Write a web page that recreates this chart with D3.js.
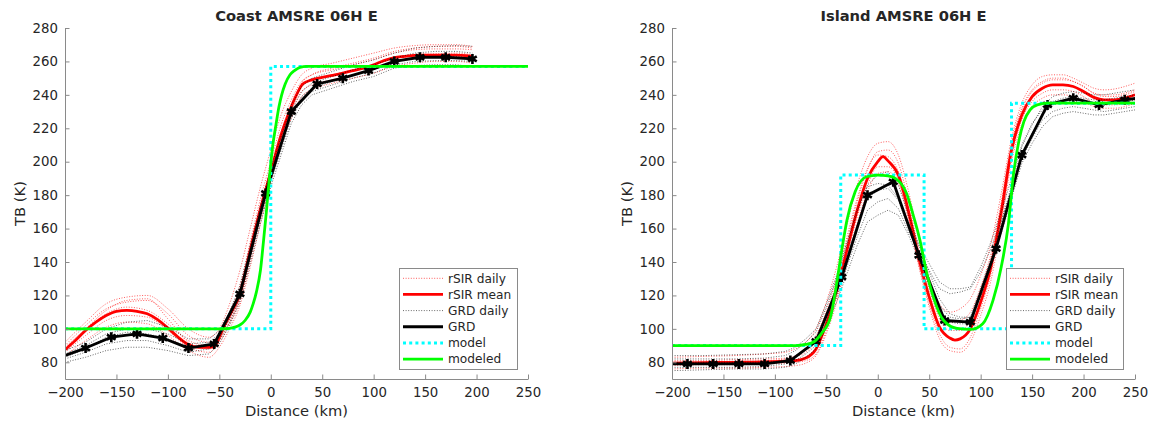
<!DOCTYPE html>
<html><head><meta charset="utf-8">
<script src="https://cdn.jsdelivr.net/npm/d3@7"></script>
<style>
body{margin:0;background:#fff}
svg{display:block}
text{font-family:"DejaVu Sans",sans-serif;fill:#262626}
</style>
</head><body>
<svg id="c" width="1152" height="426"></svg>
<script>
// ---------------- shared ----------------
const xTicks = [-200,-150,-100,-50,0,50,100,150,200,250];
const yTicks = [80,100,120,140,160,180,200,220,240,260,280];
const legendLabels = ["rSIR daily","rSIR mean","GRD daily","GRD","model","modeled"];

// ---------------- Coast ----------------
const coastDailyX = [-200,-180,-160,-140,-120,-100,-80,-60,-50,-40,-30,-20,-10,0,10,20,30,40,60,80,100,120,140,160,180,196];
const coastRsirDaily = [
  [92,104,115,119,120,112,100,95,100,115,135,160,185,207,228,242,252,256,259,262,265,268,269.5,270,270,269],
  [90,102,112,116,117,109,96,92,97,110,126,152,178,200,222,237,248,252,255,258,261,265,267,267.5,267.5,267],
  [88,99,109,113,111,103,93,90,95,106,121,146,172,196,218,233,245,249,252,255,258,262,264,264.5,265,264],
  [86,96,105,108,107,99,89,86,92,103,117,141,167,192,214,229,242,246,249,252,256,260,262,262.5,262.5,262],
  [84,93,101,104,103,96,87,83,89,100,114,137,163,188,210,226,239,243,247,250,253,257,259,260,260,259],
  [89,100,111,117,118,106,92,88,93,104,119,143,169,194,216,232,247,252,256,259,262,266,268,269,269,268]
];
const coastGrdDaily = [
  [87,92,100,104,105,101,94,94,99,110,126,150,174,196,215,234,245,250,254,258,261,265,268,269,269.5,269],
  [85,90,97,100,100,97,91,92,97,108,123,147,171,193,212,231,242,247,251,255,258,262,265,266,266,265],
  [82,86,91,93,93,90,86,88,93,104,118,142,166,188,207,226,237,242,246,250,253,258,260,260.5,260.5,260],
  [80,83,87,89,89,87,84,85,91,102,116,139,163,185,204,223,234,240,244,248,251,256,257.5,258,258,257],
  [83,88,95,98,97,94,89,90,95,106,120,144,168,190,209,228,239,244,248,252,255,260,262,263,263,262]
];
const coastMeanX = [-200,-190,-180,-170,-160,-150,-140,-130,-120,-110,-100,-90,-80,-70,-60,-55,-50,-45,-40,-30,-20,-10,0,10,18,25,31,40,50,60,70,80,90,100,110,120,130,140,150,160,170,180,190,196];
const coastMeanY = [87.5,93,99,104,108,110.5,111,110.5,109,105.5,100.5,95,90.5,89,89,89.5,95,102,108,121,147,172,194,216,230,240,246.5,249,250.5,251.7,253,254.5,256,258,260.5,262.3,263,263.6,263.8,263.8,263.8,263.8,263.5,263];
const coastGrdX = [-205,-180,-155,-130,-105,-80,-55,-30,-5,20,45,70,95,120,145,170,196];
const coastGrdY = [83,88.5,95,97,94.5,88.5,91,121,181,230,246.5,250,254.5,260,262.5,262.5,261.5];
const coastModelX = [-200,0,250];
const coastModelY = [100,257,257];
const coastFitX = [-200,-50,-40,-35,-30,-25,-20,-17,-14,-10,-7,-4,-2,0,2,5,8,10.6,14,18.7,23,28.4,35,250];
const coastFitY = [100,100,100.3,101,102.3,105,110,115.2,122,135.2,153,172,186,199,210,222,233,240,246.5,252,254.5,256.5,257,257];

// ---------------- Island ----------------
const islandDailyX = [-200,-170,-140,-110,-90,-80,-70,-60,-50,-40,-30,-20,-10,0,10,20,30,40,50,60,70,80,90,100,110,120,130,140,150,160,170,180,190,200,210,220,230,240,250];
const islandRsirDaily = [
  [83,83.5,84,85,86,88,92,100,116,137,162,186,203,211,212,204,182,154,131,115,110,112,118,132,151,181,214,235,246,251,252,252,250,247,244,243,243.5,245,247],
  [81,81,81.5,82,82.5,83.5,86,93,108,128,152,176,195,206,207,199,176,147,124,106,99,99,105,121,142,174,210,231,242,247,249,249,248,245,241,240,240,241,243],
  [78,78.5,78.5,79,79.5,80,81,85,99,119,143,167,186,197,197,189,166,138,115,97,89,88,95,112,133,166,203,225,236,241,243,243,242,239,235,234,234,235,237],
  [76,76.5,76.5,77,77.5,78,79.5,84,97,116,139,163,182,193,194,187,165,137,113,94,87,86,92,108,129,162,200,222,233,238,240,240,239,236,233,232,232,233,235],
  [80,80,80.5,81,82,84,88,96,111,131,155,178,196,204,203,194,172,146,126,110,104,105,110,125,145,176,211,232,243,248,250,250,248,245,241,239,239,240,242]
];
const islandGrdDaily = [
  [82,82,82,82.5,84,87,92,98,113,130,150,170,186,192,194,186,168,150,134,118,109,107,107,124,142,163,186,209,222,233,239,241,242,241,240,240,241,242,243],
  [77,77,77,77.5,79,81,85,90,104,119,137,155,171,176,178,172,158,146,135,124,121,122,124,134,148,165,183,202,214,225,230,232,233,232,231,230,231,232,233],
  [75,75.5,76,76,77,79,83,88,101,116,133,150,164,168,171,168,156,141,127,114,107,106,107,122,138,157,178,199,211,221,227,229,230,229,228,228,229,230,231],
  [84,84,84.5,85,86.5,89,94,100,115,132,152,172,185,187,186,178,163,150,139,128,124,124,125,137,152,170,190,210,223,231,236,238,239,238,237,237,238,239,240],
  [80,80,80,80,81,83.5,88,94,109,125,143,162,178,183,184,177,160,143,126,111,104,103,103,119,137,158,181,204,217,228,234,236,237,236,235,234,235,236,237]
];
const islandMeanX = [-200,-170,-140,-110,-90,-80,-70,-60,-50,-40,-30,-20,-10,0,5,10,20,30,40,50,60,70,75,80,90,100,110,120,130,140,150,160,170,180,190,200,210,220,230,240,250];
const islandMeanY = [79.5,79.8,80,80.3,80.7,81,82.5,88,103,123,147,171,190,200,203,200.5,192,170,142,119,101,94.5,93.3,94,100,116,137,170,207,228,239,244,246,246,245,242,238.5,237,237,238,240];
const islandGrdX = [-210,-185,-160,-135,-110,-85,-60,-35,-10,15,40,65,90,115,140,165,190,215,240,265];
const islandGrdY = [79,79,79,79,79,81,92.5,131,180,188,144,105,104,148,204,234,238,234,237,239];
const islandModelX = [-200,-36,45,130,250];
const islandModelY = [90,192,100,235,235];
const islandFitX = [-200,-80,-70,-62,-55,-46,-40,-35,-30,-22,-11,0,10,17,28,34,41,47,54,64,77,91,102,112,120,127,132,137,142,148,155,165,250];
const islandFitY = [90,90,90.7,92.3,97,107,127,147,165,182,191,192,191.5,190,181,169,153,135,119,105,100.3,99.7,103,117,137,163,193,212,224,231,234,235,235];

// ---------------- drawing ----------------
const svg = d3.select("#c");
const TOP = 28, BOT = 379;

const panels = [
  {title:"Coast AMSRE 06H E", left:65, right:528, dailyX:coastDailyX, rsirDaily:coastRsirDaily, grdDaily:coastGrdDaily,
   meanX:coastMeanX, meanY:coastMeanY, grdX:coastGrdX, grdY:coastGrdY, modelX:coastModelX, modelY:coastModelY,
   fitX:coastFitX, fitY:coastFitY, legend:{x:399, y:268, w:118, h:101}},
  {title:"Island AMSRE 06H E", left:672, right:1135, dailyX:islandDailyX, rsirDaily:islandRsirDaily, grdDaily:islandGrdDaily,
   meanX:islandMeanX, meanY:islandMeanY, grdX:islandGrdX, grdY:islandGrdY, modelX:islandModelX, modelY:islandModelY,
   fitX:islandFitX, fitY:islandFitY, legend:{x:1006, y:268, w:117, h:101}}
];

const styles = {
  rsirDaily:{stroke:"#ff0000", width:0.8, dash:"1,1.6", opacity:0.8},
  rsirMean:{stroke:"#ff0000", width:2.8},
  grdDaily:{stroke:"#000000", width:0.8, dash:"1,1.6", opacity:0.75},
  grd:{stroke:"#000000", width:2.8},
  model:{stroke:"#00ffff", width:3, dash:"3,3.2"},
  fit:{stroke:"#00ff00", width:2.8}
};

function applyStyle(sel, s){
  sel.attr("fill","none").attr("stroke",s.stroke).attr("stroke-width",s.width);
  if(s.dash) sel.attr("stroke-dasharray",s.dash);
  if(s.opacity) sel.attr("stroke-opacity",s.opacity);
  return sel;
}

panels.forEach((p,i)=>{
  const x = d3.scaleLinear().domain([-200,250]).range([p.left,p.right]);
  const y = d3.scaleLinear().domain([70,280]).range([BOT,TOP]);
  const g = svg.append("g");
  const clipId = "clip"+i;
  svg.append("clipPath").attr("id",clipId).append("rect")
    .attr("x",p.left).attr("y",TOP-4).attr("width",p.right-p.left).attr("height",BOT-TOP+4);

  const plot = g.append("g").attr("clip-path",`url(#${clipId})`);
  const smooth = d3.line().x(d=>x(d[0])).y(d=>y(d[1])).curve(d3.curveMonotoneX);
  const straight = d3.line().x(d=>x(d[0])).y(d=>y(d[1]));
  const step = d3.line().x(d=>x(d[0])).y(d=>y(d[1])).curve(d3.curveStepAfter);
  const zip = (xs,ys)=>xs.map((v,k)=>[v,ys[k]]);

  p.rsirDaily.forEach(ys=>{
    applyStyle(plot.append("path").attr("d",smooth(zip(p.dailyX,ys))), styles.rsirDaily);
  });
  applyStyle(plot.append("path").attr("d",smooth(zip(p.meanX,p.meanY))), styles.rsirMean);
  p.grdDaily.forEach(ys=>{
    applyStyle(plot.append("path").attr("d",straight(zip(p.dailyX,ys))), styles.grdDaily);
  });
  applyStyle(plot.append("path").attr("d",straight(zip(p.grdX,p.grdY))), styles.grd).attr("stroke-linejoin","round");
  const sym = d3.symbol().type(d3.symbolAsterisk).size(70);
  plot.selectAll("path.mk").data(zip(p.grdX,p.grdY)).join("path").attr("class","mk")
    .attr("d",sym()).attr("transform",d=>`translate(${x(d[0])},${y(d[1])})`)
    .attr("fill","none").attr("stroke","#000").attr("stroke-width",2.6);
  applyStyle(plot.append("path").attr("d",step(zip(p.modelX,p.modelY))), styles.model);
  applyStyle(plot.append("path").attr("d",smooth(zip(p.fitX,p.fitY))), styles.fit);

  // axes
  const ax = g.append("g").attr("transform",`translate(0,${BOT})`)
    .call(d3.axisBottom(x).tickValues(xTicks).tickSize(-4.5).tickSizeOuter(0).tickPadding(9));
  const ay = g.append("g").attr("transform",`translate(${p.left},0)`)
    .call(d3.axisLeft(y).tickValues(yTicks).tickSize(-4.5).tickSizeOuter(0).tickPadding(7));
  [ax,ay].forEach(a=>{
    a.selectAll("path,line").attr("stroke","#8a8a8a").attr("stroke-width",1);
    a.selectAll("text").style("font-size","13.3px").attr("fill","#262626").style("font-family","DejaVu Sans");
  });

  // labels
  const cx = (p.left+p.right)/2;
  g.append("text").attr("x",cx).attr("y",21).attr("text-anchor","middle")
    .style("font-size","14.7px").style("font-weight","bold").attr("fill","#000").text(p.title);
  g.append("text").attr("x",cx).attr("y",416).attr("text-anchor","middle")
    .style("font-size","14.7px").text("Distance (km)");
  g.append("text").attr("transform",`translate(${p.left-40},${(TOP+BOT)/2}) rotate(-90)`)
    .attr("text-anchor","middle").style("font-size","14.7px").text("TB (K)");

  // legend
  const L = p.legend;
  const lg = g.append("g");
  lg.append("rect").attr("x",L.x+0.5).attr("y",L.y+0.5).attr("width",L.w).attr("height",L.h)
    .attr("fill","#fff").attr("stroke","#8a8a8a").attr("stroke-width",1);
  const keys = ["rsirDaily","rsirMean","grdDaily","grd","model","fit"];
  keys.forEach((k,j)=>{
    const yy = L.y + 10.3 + j*16.15;
    applyStyle(lg.append("line").attr("x1",L.x+4).attr("x2",L.x+44).attr("y1",yy).attr("y2",yy), styles[k]);
    lg.append("text").attr("x",L.x+49).attr("y",yy).attr("dy","0.35em")
      .style("font-size","12.2px").text(legendLabels[j]);
  });
});
</script>
</body></html>
